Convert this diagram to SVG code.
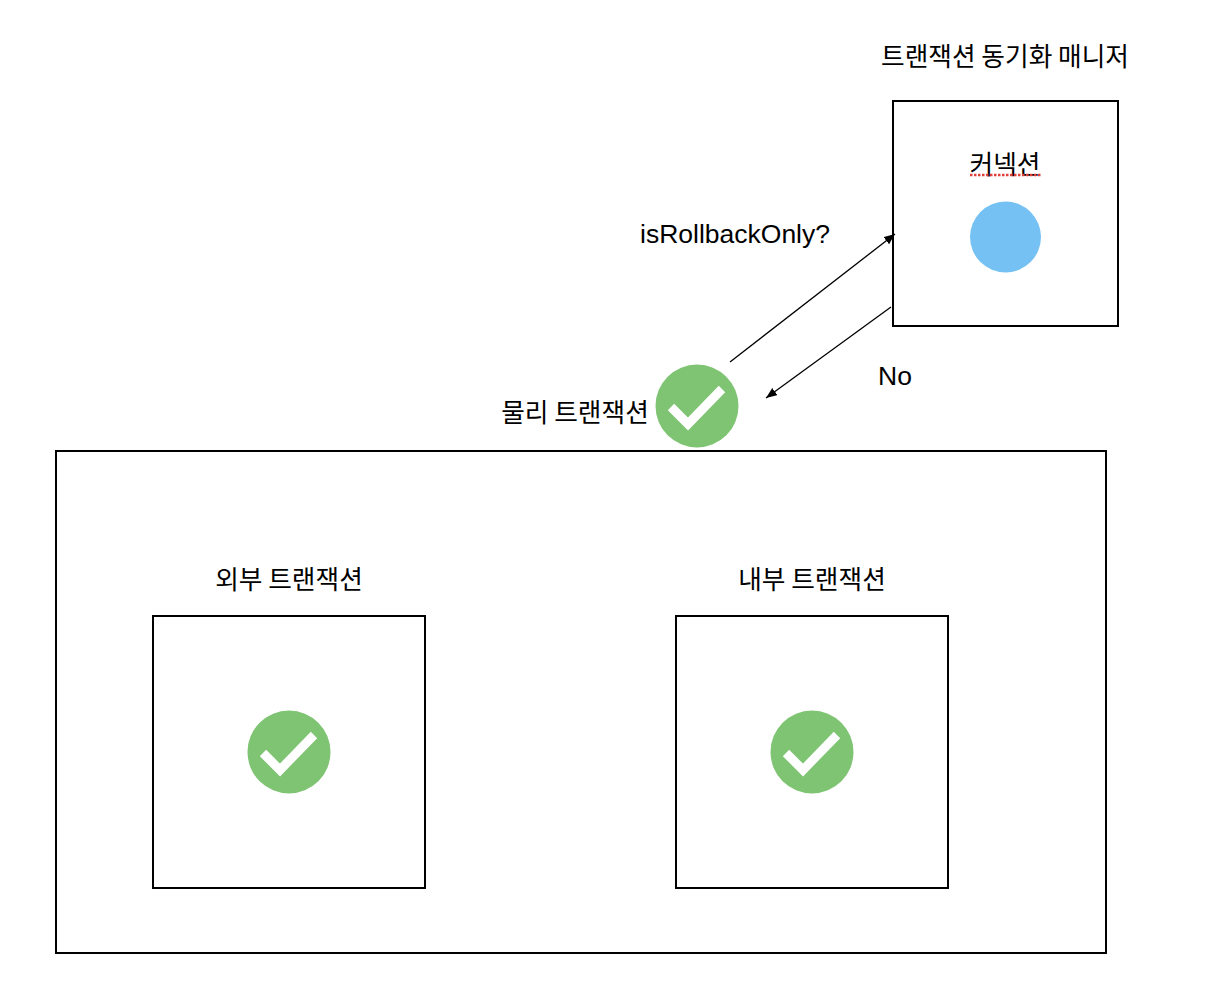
<svg xmlns="http://www.w3.org/2000/svg" width="1214" height="1008" viewBox="0 0 1214 1008">
<style>
text{font-family:"Noto Sans CJK KR","Liberation Sans",sans-serif;font-size:25.7px;fill:#000;text-anchor:middle}
.box{fill:#fff;stroke:#000;stroke-width:2}
.disc{fill:#7ec472}
.tick{fill:none;stroke:#fff;stroke-width:9}
.link{fill:none;stroke:#000;stroke-width:1.3}
.latin{font-family:"Liberation Sans",sans-serif;font-size:26.5px}
</style>
<defs>
<marker id="arrow" markerWidth="12" markerHeight="10" refX="11" refY="4.5" orient="auto" markerUnits="userSpaceOnUse"><path d="M0 0L11 4.5L0 9z" fill="#000"/></marker>
<g id="check"><circle class="disc" r="41.500"/><path class="tick" d="M-26 1L-9 18L25 -17"/></g>
</defs>
<rect width="1214" height="1008" fill="#fff"/>
<g id="outer-frame"><rect class="box" x="56" y="451" width="1050" height="502"/></g>
<g id="sync-manager"><rect class="box" x="893" y="101" width="225" height="225"/>
<text x="1005" y="66">트랜잭션 동기화 매니저</text></g>
<g id="connection"><text x="1005" y="174">커넥션</text>
<path d="M970 175H1041" fill="none" stroke="#e0403a" stroke-width="2.500" stroke-dasharray="2.500 1.500"/>
<circle cx="1005.500" cy="237" r="35.500" fill="#75c1f3"/></g>
<g id="physical-tx"><text x="575" y="422">물리 트랜잭션</text><use href="#check" x="697" y="406"/></g>
<g id="outer-tx"><text x="289" y="589">외부 트랜잭션</text><rect class="box" x="153" y="616" width="272" height="272"/><use href="#check" x="289" y="752"/></g>
<g id="inner-tx"><text x="812" y="589">내부 트랜잭션</text><rect class="box" x="676" y="616" width="272" height="272"/><use href="#check" x="812" y="752"/></g>
<g id="connectors">
<path class="link" d="M730 362L895 234" marker-end="url(#arrow)"/>
<path class="link" d="M891 307L766 398" marker-end="url(#arrow)"/>
</g>
<g id="labels">
<text class="latin" x="735" y="243">isRollbackOnly?</text>
<text class="latin" x="895" y="385">No</text>
</g>
</svg>
